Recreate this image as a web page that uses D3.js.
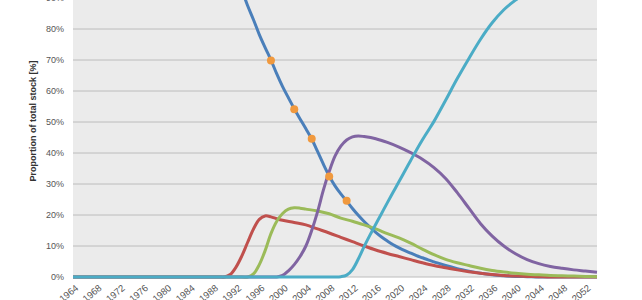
<!DOCTYPE html>
<html>
<head>
<meta charset="utf-8">
<script src="https://cdn.jsdelivr.net/npm/d3@7"></script>
<style>
    body { margin: 0; background: #fff; }
    svg { display: block; font-family: "Liberation Sans", Arial, sans-serif; }
</style>
</head>
<body>
<svg id="chart" width="642" height="300"></svg>
<script>
// Technology shares of total stock (fraction of stock)
const blueYears  = [1964, 1989, 1990, 1991, 1992, 1993, 1994, 1995, 1996, 1997, 1998, 1999, 2000, 2001, 2002, 2003, 2004, 2005, 2006, 2007, 2008, 2009, 2010, 2011, 2012, 2013, 2014, 2015, 2016, 2017, 2018, 2019, 2020, 2021, 2022, 2023, 2024, 2025, 2026, 2028, 2030, 2032, 2034, 2036, 2038, 2040, 2042, 2044, 2045, 2054];
const blueValues = [1.0, 1.0, 1.0, 0.995, 0.965, 0.925, 0.875, 0.83, 0.782, 0.74, 0.70, 0.655, 0.614, 0.578, 0.543, 0.51, 0.478, 0.445, 0.405, 0.364, 0.326, 0.294, 0.268, 0.245, 0.221, 0.199, 0.179, 0.161, 0.144, 0.129, 0.116, 0.104, 0.094, 0.085, 0.077, 0.069, 0.062, 0.055, 0.049, 0.037, 0.027, 0.019, 0.012, 0.007, 0.004, 0.002, 0.001, 0, 0, 0];

const redYears  = [1964, 1989, 1990, 1991, 1992, 1993, 1994, 1995, 1996, 1997, 1998, 1999, 2000, 2002, 2004, 2006, 2008, 2010, 2012, 2014, 2016, 2018, 2020, 2022, 2024, 2026, 2028, 2030, 2032, 2034, 2036, 2038, 2040, 2042, 2044, 2046, 2047, 2054];
const redValues = [0, 0, 0, 0.008, 0.032, 0.068, 0.112, 0.155, 0.186, 0.197, 0.194, 0.188, 0.183, 0.176, 0.168, 0.155, 0.142, 0.128, 0.114, 0.1, 0.087, 0.076, 0.066, 0.056, 0.046, 0.037, 0.03, 0.023, 0.017, 0.012, 0.008, 0.005, 0.003, 0.002, 0.001, 0, 0, 0];

const greenYears  = [1964, 1993, 1994, 1995, 1996, 1997, 1998, 1999, 2000, 2001, 2002, 2003, 2004, 2006, 2008, 2010, 2012, 2014, 2016, 2018, 2020, 2022, 2024, 2026, 2028, 2030, 2032, 2034, 2036, 2038, 2040, 2042, 2044, 2046, 2048, 2050, 2052, 2054];
const greenValues = [0, 0, 0, 0.01, 0.04, 0.085, 0.14, 0.18, 0.205, 0.219, 0.223, 0.222, 0.219, 0.213, 0.204, 0.19, 0.18, 0.168, 0.155, 0.14, 0.126, 0.109, 0.09, 0.072, 0.057, 0.046, 0.037, 0.028, 0.021, 0.016, 0.012, 0.009, 0.007, 0.005, 0.004, 0.003, 0.002, 0.001];

const purpleYears  = [1964, 1998, 1999, 2000, 2001, 2002, 2003, 2004, 2005, 2006, 2007, 2008, 2009, 2010, 2011, 2012, 2013, 2014, 2016, 2018, 2020, 2022, 2024, 2026, 2028, 2030, 2032, 2034, 2036, 2038, 2040, 2042, 2044, 2046, 2048, 2050, 2052, 2054];
const purpleValues = [0, 0, 0, 0.005, 0.02, 0.04, 0.066, 0.1, 0.15, 0.21, 0.28, 0.34, 0.39, 0.422, 0.442, 0.452, 0.455, 0.453, 0.446, 0.434, 0.419, 0.401, 0.38, 0.353, 0.318, 0.272, 0.222, 0.172, 0.132, 0.1, 0.075, 0.056, 0.043, 0.034, 0.028, 0.023, 0.019, 0.015];

const cyanYears  = [1964, 2008, 2009, 2010, 2011, 2012, 2013, 2014, 2015, 2016, 2017, 2018, 2019, 2020, 2021, 2022, 2023, 2024, 2025, 2026, 2028, 2030, 2032, 2034, 2036, 2038, 2040, 2042, 2044, 2046, 2048, 2050, 2052, 2054];
const cyanValues = [0, 0, 0, 0.001, 0.006, 0.024, 0.058, 0.098, 0.135, 0.17, 0.205, 0.24, 0.274, 0.308, 0.342, 0.376, 0.41, 0.442, 0.472, 0.502, 0.57, 0.64, 0.705, 0.767, 0.82, 0.862, 0.893, 0.918, 0.938, 0.953, 0.964, 0.973, 0.979, 0.984];

// Observed points on the declining curve
const dotYears  = [1998, 2002, 2005, 2008, 2011];
const dotValues = [0.698, 0.541, 0.446, 0.324, 0.246];

const yTicks = [0, 0.1, 0.2, 0.3, 0.4, 0.5, 0.6, 0.7, 0.8, 0.9];
const xTickYears = d3.range(1964, 2053, 4);

const series = [
    { years: blueYears, values: blueValues, color: '#4a7fba' },
    { years: redYears, values: redValues, color: '#c0504d' },
    { years: greenYears, values: greenValues, color: '#9bbb59' },
    { years: purpleYears, values: purpleValues, color: '#8064a2' },
    { years: cyanYears, values: cyanValues, color: '#4bacc6' }
];

const svg = d3.select('#chart');
const margin = { left: 73, right: 45, bottom: 23 };
const width = 642, height = 300;

const x = d3.scaleLinear()
    .domain([1964, 2054])
    .range([margin.left, width - margin.right]);

// 10% per 31px, top of the frame cuts just under 90%
const y = d3.scaleLinear()
    .domain([0, 0.9])
    .range([height - margin.bottom, -2]);

// Plot background
svg.append('rect')
    .attr('x', x(1964))
    .attr('y', y(1))
    .attr('width', x(2054) - x(1964))
    .attr('height', y(0) - y(1))
    .attr('fill', '#ebebeb');

// Gridlines
svg.append('g')
    .selectAll('line')
    .data(yTicks)
    .enter()
    .append('line')
    .attr('x1', x(1964))
    .attr('x2', x(2054))
    .attr('y1', d => y(d))
    .attr('y2', d => y(d))
    .attr('stroke', '#bcbcbc')
    .attr('stroke-width', 1);

// Y axis labels
svg.append('g')
    .selectAll('text')
    .data(yTicks)
    .enter()
    .append('text')
    .attr('x', 64)
    .attr('y', d => y(d))
    .attr('dy', '0.35em')
    .attr('text-anchor', 'end')
    .style('fill', '#555')
    .style('font-size', '9px')
    .text(d => d3.format('.0%')(d));

svg.append('text')
    .attr('transform', 'translate(36, 121) rotate(-90)')
    .attr('text-anchor', 'middle')
    .style('fill', '#333')
    .style('font-size', '9px')
    .style('font-weight', 'bold')
    .text('Proportion of total stock [%]');

// X axis labels, rotated
svg.append('g')
    .selectAll('text')
    .data(xTickYears)
    .enter()
    .append('text')
    .attr('transform', d => `translate(${x(d) + 6}, ${height - margin.bottom + 12}) rotate(-40)`)
    .attr('text-anchor', 'end')
    .style('fill', '#555')
    .style('font-size', '9.5px')
    .text(d => d);

// Lines
const line = d3.line()
    .x(d => x(d[0]))
    .y(d => y(d[1]))
    .curve(d3.curveCatmullRom.alpha(0.5));

series.forEach(s => {
    svg.append('path')
        .datum(s.years.map((yr, i) => [yr, s.values[i]]))
        .attr('d', line)
        .attr('fill', 'none')
        .attr('stroke', s.color)
        .attr('stroke-width', 3)
        .attr('stroke-linejoin', 'round');
});

// Dots
svg.append('g')
    .selectAll('circle')
    .data(dotYears.map((yr, i) => [yr, dotValues[i]]))
    .enter()
    .append('circle')
    .attr('cx', d => x(d[0]))
    .attr('cy', d => y(d[1]))
    .attr('r', 4)
    .attr('fill', '#f0993e');
</script>
</body>
</html>
